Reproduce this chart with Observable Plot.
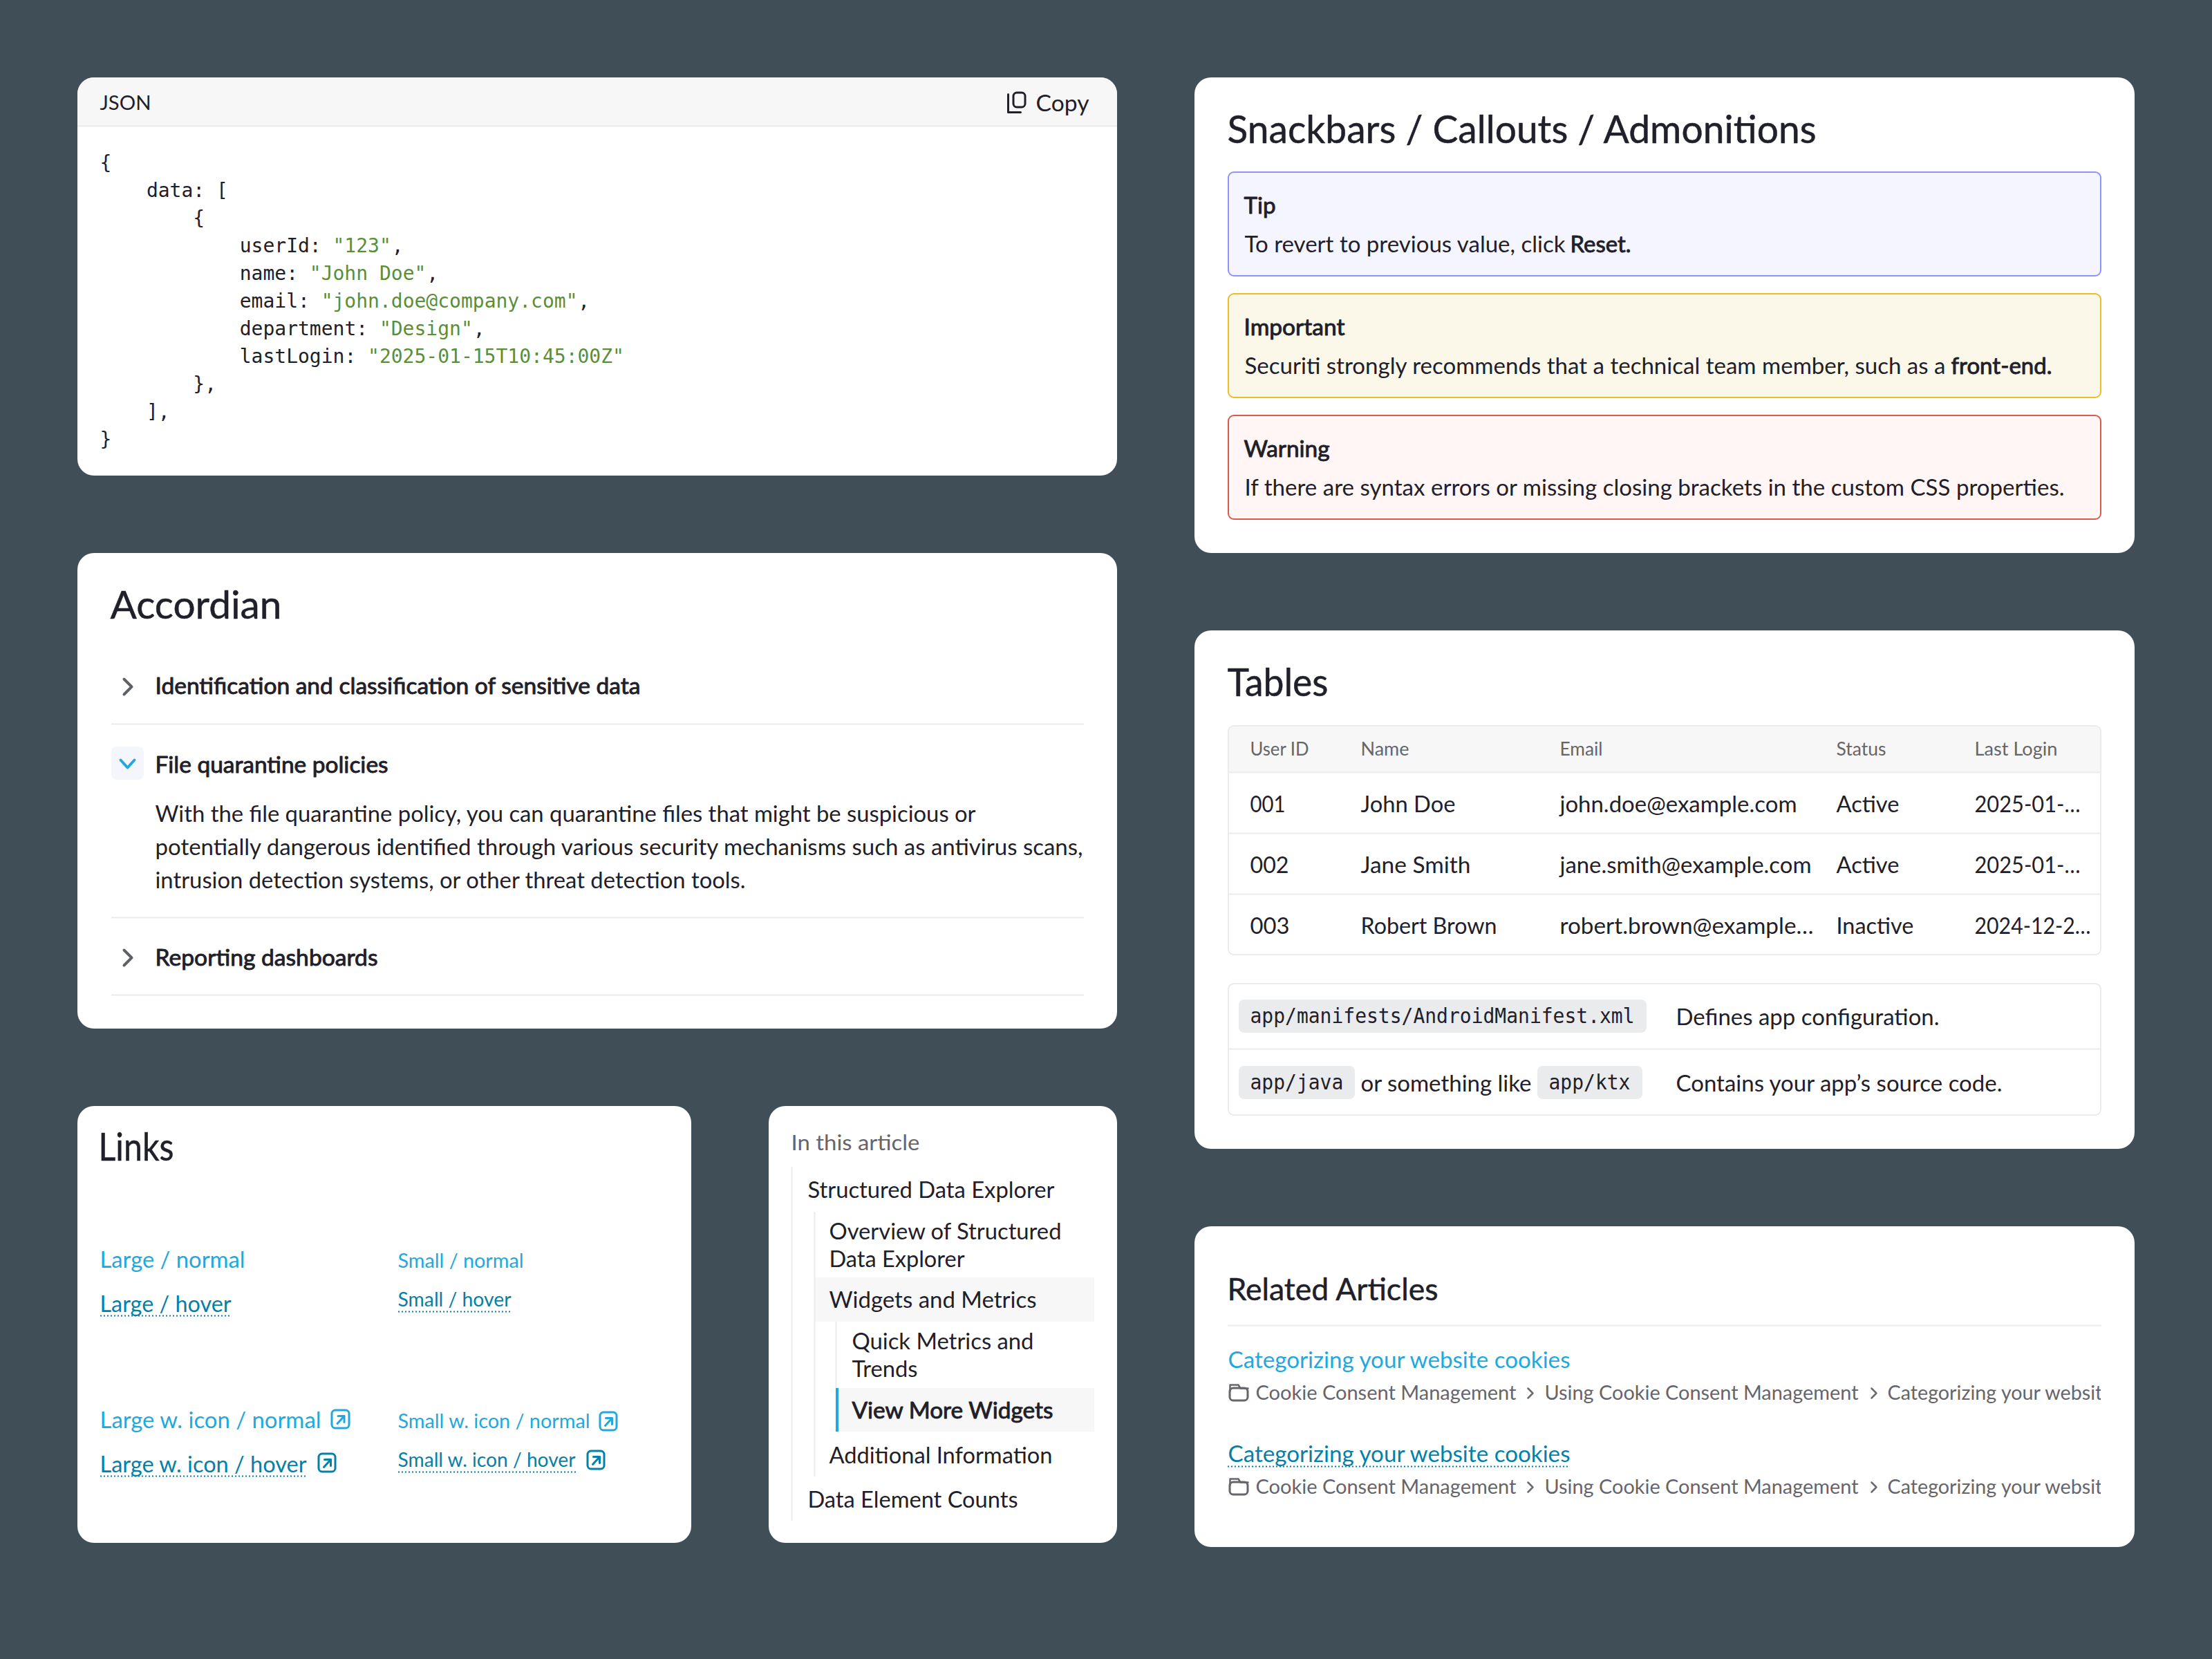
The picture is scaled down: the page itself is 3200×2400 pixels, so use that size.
<!DOCTYPE html>
<html><head><meta charset="utf-8">
<script src="https://cdn.jsdelivr.net/npm/d3@7"></script>
<script src="https://cdn.jsdelivr.net/npm/@observablehq/plot@0.6"></script>
<style>html,body{margin:0;padding:0;background:#404f57}svg{display:block}</style>
</head><body><div id="app"></div>
<script>
// ---- content ----
const jsonKeys = ["{","    data: [","        {","            userId: ","            name: ","            email: ","            department: ","            lastLogin: ","        },","    ],","}"];
const jsonStrings = ["","","",'"123"','"John Doe"','"john.doe@company.com"','"Design"','"2025-01-15T10:45:00Z"',"","",""];
const jsonTails = ["","","",",",",",",",",","","","",""];
const accordionTitles = ["Identification and classification of sensitive data","File quarantine policies","Reporting dashboards"];
const accordionBody = ["With the file quarantine policy, you can quarantine files that might be suspicious or","potentially dangerous identified through various security mechanisms such as antivirus scans,","intrusion detection systems, or other threat detection tools."];
const linkLabels = ["Large / normal","Large / hover","Small / normal","Small / hover","Large w. icon / normal","Large w. icon / hover","Small w. icon / normal","Small w. icon / hover"];
const tocLabels = ["Structured Data Explorer","Overview of Structured","Data Explorer","Widgets and Metrics","Quick Metrics and","Trends","View More Widgets","Additional Information","Data Element Counts"];
const snackTitles = ["Tip","Important","Warning"];
const snackBodies = ["To revert to previous value, click","Securiti strongly recommends that a technical team member, such as a","If there are syntax errors or missing closing brackets in the custom CSS properties."];
const snackBold = ["Reset.","front-end.",""];
const tableHeaders = ["User ID","Name","Email","Status","Last Login"];
const tableRows = [["001","John Doe","john.doe@example.com","Active","2025-01-…"],["002","Jane Smith","jane.smith@example.com","Active","2025-01-…"],["003","Robert Brown","robert.brown@example…","Inactive","2024-12-2…"]];
const crumbs = ["Cookie Consent Management","Using Cookie Consent Management","Categorizing your website"];
const articleTitle = "Categorizing your website cookies";

// ---- palette ----
const INK="#1f2029", GREY="#65656b", BLUE="#23a8dd", HOVER="#0580a8", GREEN="#5a8f38", LINE="#ebebec", BAND="#f7f7f7";
const SANS="Lato", MONO="DejaVu Sans Mono";

// ---- layout ----
const texts=[];
const T=(text,x,y,size,fill=INK,w=null,kind="r")=>texts.push({text,x:x-1,y:y+1,size,fill,w,kind});
const H=(text,x,y,size,w)=>texts.push({text,x:x-2,y:y+2,size,fill:INK,w,kind:"t"});
const charW=16.85;
const M=(text,x,y)=>texts.push({text,x,y,size:30,fill:INK,w:text.length*charW,kind:"m"});
const J=(text,x,y,fill)=>texts.push({text,x,y,size:28,fill,w:null,kind:"m"});
// JSON card
T("JSON",145,149,28,INK,74);
T("Copy",1499,149,32,INK,77);
jsonKeys.forEach((k,i)=>{
  const y=236+40*i, ind=k.length-k.trimStart().length, key=k.trim();
  J(key,144+ind*charW,y,INK);
  if(jsonStrings[i]){
    const sx=144+k.length*charW;
    J(jsonStrings[i],sx,y,GREEN);
    J(jsonTails[i],sx+jsonStrings[i].length*charW+1,y,INK);
  }
});
// Accordion
H("Accordian",161,874,57,248);
[[992,702],[1106,337],[1385,322]].forEach(([y,w],i)=>T(accordionTitles[i],225,y,32,INK,w,"b"));
[[1178,1187],[1226,1342],[1274,854]].forEach(([y,w],i)=>T(accordionBody[i],225,y-1,32,INK,w));
// Links
H("Links",144,1658,57,109);
[[145,1822,32,BLUE,210],[145,1886,32,HOVER,190],[576,1824,28,BLUE,182],[576,1880,28,HOVER,164],
 [145,2054,32,BLUE,320],[145,2118,32,HOVER,299],[576,2056,28,BLUE,278],[576,2112,28,HOVER,257]]
 .forEach(([x,y,s,c,w],i)=>T(linkLabels[i],x,y,s,c,w));
// TOC
T("In this article",1145,1653,30,GREY,186);
[[1169,1721,357],[1200,1781,336],[1200,1821,196],[1200,1880,300],[1233,1940,263],[1233,1980,95],[1233,2040,291],[1200,2105,323],[1169,2169,304]]
 .forEach(([x,y,w],i)=>T(tocLabels[i],x,y,32,INK,w,i==6?"b":"r"));
// Snackbars
H("Snackbars / Callouts / Admonitions",1777,186,57,852);
[[297,46,353,464,2272,88],[473,146,529,1014,2823,146],[649,124,705,1186,0,0]].forEach(([ty,tw,by,bw,bx,bbw],i)=>{
  T(snackTitles[i],1800,ty,32,INK,tw,"b");
  T(snackBodies[i],1801,by,32,INK,bw);
  if(snackBold[i])T(snackBold[i],bx,by,32,INK,bbw,"b");
});
// Tables
H("Tables",1777,986,57,146);
const colX=[1809,1969,2257,2657,2857];
[85,70,62,72,120].forEach((w,j)=>T(tableHeaders[j],colX[j],1083,26,GREY,w));
const rowY=[1163,1251,1339];
const cellW=[[51,137,343,91,153],[56,159,364,91,153],[57,197,367,112,168]];
tableRows.forEach((r,i)=>r.forEach((c,j)=>T(c,colX[j],rowY[i],32,INK,cellW[i][j])));
M("app/manifests/AndroidManifest.xml",1808,1470);
T("Defines app configuration.",2425,1471,32,INK,381);
M("app/java",1808,1566);
T("or something like",1969,1567,32,INK,247);
M("app/ktx",2240,1566);
T("Contains your app’s source code.",2425,1567,32,INK,472);
// Related
H("Related Articles",1777,1864,45,305);
[[1967,2015,BLUE],[2103,2151,HOVER]].forEach(([ly,cy,c])=>{
  T(articleTitle,1777,ly,32,c,495);
  T(crumbs[0],1817,cy,28,GREY,377);
  T(crumbs[1],2235,cy,28,GREY,454);
  T(crumbs[2],2731,cy,28,GREY,326);
});

const cards=[[112,1616,112,688],[112,1616,800,1488],[112,1000,1600,2232],[1112,1616,1600,2232],[1728,3088,112,800],[1728,3088,912,1662],[1728,3088,1774,2238]]
  .map(([x1,x2,y1,y2])=>({x1,x2,y1,y2}));
const snackBoxes=[[249,399,"#f5f5ff","#9090ff"],[425,575,"#fbf8e9","#ebbd28"],[601,751,"#fff6f5","#db5b4a"]]
  .map(([y1,y2,fill,stroke])=>({x1:1777,x2:3039,y1,y2,fill,stroke}));
const outlineBoxes=[[1777,3039,1050,1381],[1777,3039,1423,1613]].map(([x1,x2,y1,y2])=>({x1,x2,y1,y2}));
const pills=[[1792,2382,1446,1494],[1792,1960,1542,1590],[2224,2376,1542,1590]].map(([x1,x2,y1,y2])=>({x1,x2,y1,y2}));
const squareBands=[
 {x1:112,x2:1616,y1:136,y2:182,fill:BAND},
 {x1:1778,x2:3038,y1:1060,y2:1117,fill:BAND},
 {x1:1178,x2:1583,y1:1848,y2:1912,fill:BAND},
 {x1:1209,x2:1583,y1:2008,y2:2071,fill:BAND},
 {x1:1209,x2:1213,y1:2008,y2:2071,fill:BLUE}];
const masks=[{x1:3039,x2:3087,y1:2000,y2:2032},{x1:3039,x2:3087,y1:2136,y2:2168}];
const hRules=[[182,112,1616],[1047,161,1568],[1327,161,1568],[1439,161,1568],[1117,1777,3039],[1205,1777,3039],[1293,1777,3039],[1517,1777,3039],[1917,1776,3040]]
  .map(([y,x1,x2])=>({y,x1,x2}));
const vRules=[[1145,1688,2200],[1178,1753,2136],[1209,1912,2008]].map(([x,y1,y2])=>({x,y1,y2}));
const dotted=[[1903,145,335,HOVER],[1897,576,740,HOVER],[2135,145,444,HOVER],[2129,576,833,HOVER],[2121,1776,2271,HOVER]].map(([y,x1,x2,c])=>({y,x1,x2,c}));
const linkIcons=[[480,505,2040,2066,BLUE],[461,485,2103,2129,HOVER],[868,892,2043,2069,BLUE],[850,874,2099,2125,HOVER]];
const iconBoxes=[...linkIcons,[1466,1483,134,155,INK],[1779,1805,2008,2026,GREY],[1779,1805,2144,2162,GREY]]
  .map(([x1,x2,y1,y2,c])=>({x1,x2,y1,y2,c}));
// polylines for glyph-like icons
const poly=[];
const P=(id,c,sw,...pts)=>pts.forEach(([x,y])=>poly.push({id,x,y,c,sw}));
P("c1","#5f6066",4,[179,982],[190,993],[179,1004]);
P("c2",BLUE,4,[174,1099],[184,1110],[194,1099]);
P("c3","#5f6066",4,[179,1374],[190,1385],[179,1396]);
P("copy",INK,3,[1458,136],[1458,162],[1476,162]);
linkIcons.forEach(([x1,x2,y1,y2,c],i)=>{
  const mx=(x1+x2)/2,my=(y1+y2)/2;
  P("a"+i,c,3,[mx-5,my+6],[mx+5,my-5]);
  P("b"+i,c,3,[mx-4,my-5],[mx+5,my-5],[mx+5,my+4]);
});
[[2213,2015],[2710,2015],[2213,2151],[2710,2151]].forEach(([x,y],i)=>P("cr"+i,"#6a6a70",2.5,[x-3,y-7],[x+4,y],[x-3,y+7]));
[2008,2144].forEach((y,i)=>P("f"+i,GREY,2.5,[1779,y+4],[1779,y-5],[1791,y-5],[1794,y],[1805,y]));

const textMark=(kind,family,weight,halo)=>{
  const data=texts.filter(d=>d.kind===kind&&d.text);
  return Plot.text(data,{x:"x",y:"y",text:"text",fill:"fill",fontSize:"size",fontFamily:family,fontWeight:weight,textAnchor:"start",lineAnchor:"middle",
    ...(halo?{stroke:"fill",strokeWidth:halo}:{}),
    render(index,scales,values,dims,ctx,next){
      const g=next(index,scales,values,dims,ctx);
      const els=g.querySelectorAll("text");
      Array.from(index).forEach((d,k)=>{
        const it=data[d], el=els[k]; if(!el) return;
        if(it.w){el.setAttribute("textLength",it.w);el.setAttribute("lengthAdjust","spacingAndGlyphs");}
      });
      return g;
    }});
};
const box={x1:"x1",x2:"x2",y1:"y1",y2:"y2"};
const chart=Plot.plot({
  width:3200,height:2400,margin:0,
  x:{domain:[0,3200],range:[0,3200],axis:null},
  y:{domain:[0,2400],range:[0,2400],axis:null},
  color:{type:"identity"},
  style:{background:"#404f57",fontFamily:SANS},
  marks:[
    Plot.rect(cards,{...box,fill:"#fff",rx:24}),
    Plot.rect([{x1:112,x2:1616,y1:112,y2:182}],{...box,fill:BAND,rx:24}),
    Plot.rect([{x1:1777,x2:3039,y1:1050,y2:1117}],{...box,fill:BAND,rx:8}),
    Plot.rect(squareBands,{...box,fill:"fill"}),
    Plot.rect(snackBoxes,{...box,fill:"fill",stroke:"stroke",strokeWidth:2,rx:8}),
    Plot.rect(outlineBoxes,{...box,fill:"none",stroke:LINE,strokeWidth:2,rx:8}),
    Plot.rect(pills,{...box,fill:"#eaebed",rx:8}),
    Plot.rect([{x1:161,x2:208,y1:1080,y2:1128}],{...box,fill:"#f4f6fc",rx:8}),
    Plot.ruleY(hRules,{y:"y",x1:"x1",x2:"x2",stroke:LINE,strokeWidth:2}),
    Plot.ruleX(vRules,{x:"x",y1:"y1",y2:"y2",stroke:LINE,strokeWidth:2}),
    Plot.ruleY(dotted,{y:"y",x1:"x1",x2:"x2",stroke:"c",strokeWidth:2,strokeDasharray:"2 3"}),
    Plot.rect(iconBoxes,{...box,fill:"none",stroke:"c",strokeWidth:3,rx:5}),
    Plot.line(poly,{x:"x",y:"y",z:"id",stroke:"c",strokeWidth:"sw",curve:"linear",strokeLinecap:"round",strokeLinejoin:"round"}),
    textMark("r",SANS,400),
    textMark("b",SANS,400,0.9),
    textMark("t",SANS,400,0.5),
    textMark("m",MONO,400),
    Plot.rect(masks,{...box,fill:"#fff"})
  ]
});
document.getElementById("app").appendChild(chart);
</script></body></html>
